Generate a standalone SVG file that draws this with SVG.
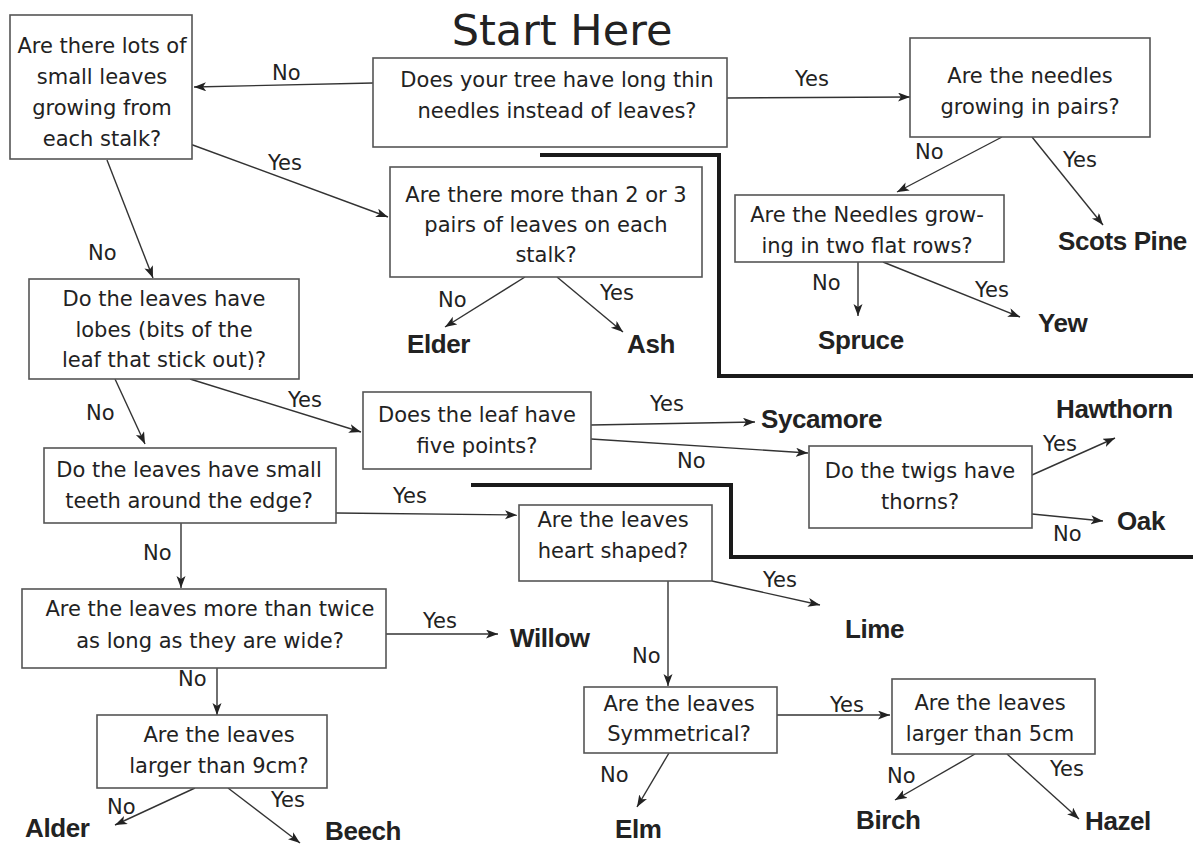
<svg xmlns="http://www.w3.org/2000/svg" width="1195" height="845" viewBox="0 0 1195 845">
<style>
.box{fill:#fff;stroke:#555;stroke-width:1.6}
.q{font-family:"DejaVu Sans",sans-serif;font-size:21px;fill:#222;text-anchor:middle}
.lbl{font-family:"DejaVu Sans",sans-serif;font-size:21px;fill:#222}
.leaf{font-family:"Liberation Sans",Arial,sans-serif;font-weight:bold;font-size:26px;fill:#222;letter-spacing:-0.4px}
.title{font-family:"DejaVu Sans",sans-serif;font-size:43px;fill:#222;text-anchor:middle}
.con{fill:none;stroke:#333;stroke-width:1.4;marker-end:url(#ah)}
.thick{fill:none;stroke:#1a1a1a;stroke-width:4}
</style>
<defs>
<marker id="ah" markerUnits="userSpaceOnUse" markerWidth="13" markerHeight="10" refX="12" refY="4.5" orient="auto">
<path d="M0,0 L12,4.5 L0,9 L3,4.5 z" fill="#222"/>
</marker>
</defs>
<rect width="1195" height="845" fill="#fff"/>
<text class="title" x="562" y="45">Start Here</text>

<g id="dividers">
<path class="thick" d="M540,155 H719 V376 H1193"/>
<path class="thick" d="M471,485 H731 V557 H1193"/>
</g>

<g id="connectors">
<path class="con" d="M373,83 L194,87"/>
<path class="con" d="M727,98 L910,97"/>
<path class="con" d="M190,144 L388,217"/>
<path class="con" d="M107,160 L153,278"/>
<path class="con" d="M1002,137 L897,192"/>
<path class="con" d="M1032,137 L1103,225"/>
<path class="con" d="M858,262 L858,316"/>
<path class="con" d="M883,262 L1020,317"/>
<path class="con" d="M525,277 L445,327"/>
<path class="con" d="M557,277 L623,332"/>
<path class="con" d="M115,379 L145,444"/>
<path class="con" d="M190,379 L361,432"/>
<path class="con" d="M591,425 L755,422"/>
<path class="con" d="M591,439 L808,453"/>
<path class="con" d="M1032,475 L1115,438"/>
<path class="con" d="M1032,514 L1103,521"/>
<path class="con" d="M336,513 L517,515"/>
<path class="con" d="M181,523 L181,588"/>
<path class="con" d="M712,581 L820,605"/>
<path class="con" d="M668,581 L668,686"/>
<path class="con" d="M386,634 L498,634"/>
<path class="con" d="M217,668 L217,715"/>
<path class="con" d="M195,788 L115,825"/>
<path class="con" d="M228,788 L300,843"/>
<path class="con" d="M669,753 L637,807"/>
<path class="con" d="M777,715 L890,715"/>
<path class="con" d="M975,754 L895,800"/>
<path class="con" d="M1007,754 L1079,819"/>
</g>

<g id="labels">
<text class="lbl" x="272" y="80">No</text>
<text class="lbl" x="795" y="86">Yes</text>
<text class="lbl" x="268" y="170">Yes</text>
<text class="lbl" x="88" y="260">No</text>
<text class="lbl" x="915" y="159">No</text>
<text class="lbl" x="1063" y="167">Yes</text>
<text class="lbl" x="812" y="290">No</text>
<text class="lbl" x="975" y="297">Yes</text>
<text class="lbl" x="438" y="307">No</text>
<text class="lbl" x="600" y="300">Yes</text>
<text class="lbl" x="86" y="420">No</text>
<text class="lbl" x="288" y="407">Yes</text>
<text class="lbl" x="650" y="411">Yes</text>
<text class="lbl" x="677" y="468">No</text>
<text class="lbl" x="1043" y="451">Yes</text>
<text class="lbl" x="1053" y="541">No</text>
<text class="lbl" x="393" y="503">Yes</text>
<text class="lbl" x="143" y="560">No</text>
<text class="lbl" x="763" y="587">Yes</text>
<text class="lbl" x="632" y="663">No</text>
<text class="lbl" x="423" y="628">Yes</text>
<text class="lbl" x="178" y="686">No</text>
<text class="lbl" x="107" y="814">No</text>
<text class="lbl" x="271" y="807">Yes</text>
<text class="lbl" x="600" y="782">No</text>
<text class="lbl" x="830" y="712">Yes</text>
<text class="lbl" x="887" y="783">No</text>
<text class="lbl" x="1050" y="776">Yes</text>
</g>

<g id="q-start">
<rect class="box" x="373" y="58" width="354" height="89"/>
<text class="q" x="557" y="87">Does your tree have long thin</text>
<text class="q" x="557" y="118">needles instead of leaves?</text>
</g>
<g id="q-small-leaves">
<rect class="box" x="10" y="15" width="182" height="144"/>
<text class="q" x="102" y="53">Are there lots of</text>
<text class="q" x="102" y="84">small leaves</text>
<text class="q" x="102" y="115">growing from</text>
<text class="q" x="102" y="146">each stalk?</text>
</g>
<g id="q-needle-pairs">
<rect class="box" x="910" y="38" width="240" height="99"/>
<text class="q" x="1030" y="83">Are the needles</text>
<text class="q" x="1030" y="114">growing in pairs?</text>
</g>
<g id="q-flat-rows">
<rect class="box" x="735" y="195" width="269" height="67"/>
<text class="q" x="867" y="222">Are the Needles grow-</text>
<text class="q" x="867" y="253">ing in two flat rows?</text>
</g>
<g id="q-pairs">
<rect class="box" x="390" y="167" width="312" height="110"/>
<text class="q" x="546" y="202">Are there more than 2 or 3</text>
<text class="q" x="546" y="232">pairs of leaves on each</text>
<text class="q" x="546" y="262">stalk?</text>
</g>
<g id="q-lobes">
<rect class="box" x="29" y="279" width="270" height="100"/>
<text class="q" x="164" y="306">Do the leaves have</text>
<text class="q" x="164" y="337">lobes (bits of the</text>
<text class="q" x="164" y="367">leaf that stick out)?</text>
</g>
<g id="q-five-points">
<rect class="box" x="363" y="392" width="228" height="77"/>
<text class="q" x="477" y="422">Does the leaf have</text>
<text class="q" x="477" y="453">five points?</text>
</g>
<g id="q-thorns">
<rect class="box" x="809" y="446" width="223" height="82"/>
<text class="q" x="920" y="478">Do the twigs have</text>
<text class="q" x="920" y="509">thorns?</text>
</g>
<g id="q-teeth">
<rect class="box" x="44" y="448" width="292" height="75"/>
<text class="q" x="189" y="477">Do the leaves have small</text>
<text class="q" x="189" y="508">teeth around the edge?</text>
</g>
<g id="q-heart">
<rect class="box" x="519" y="505" width="193" height="76"/>
<text class="q" x="613" y="527">Are the leaves</text>
<text class="q" x="613" y="558">heart shaped?</text>
</g>
<g id="q-twice">
<rect class="box" x="22" y="589" width="364" height="79"/>
<text class="q" x="210" y="616">Are the leaves more than twice</text>
<text class="q" x="210" y="648">as long as they are wide?</text>
</g>
<g id="q-9cm">
<rect class="box" x="97" y="715" width="230" height="73"/>
<text class="q" x="219" y="742">Are the leaves</text>
<text class="q" x="219" y="773">larger than 9cm?</text>
</g>
<g id="q-symmetrical">
<rect class="box" x="584" y="687" width="193" height="66"/>
<text class="q" x="679" y="711">Are the leaves</text>
<text class="q" x="679" y="741">Symmetrical?</text>
</g>
<g id="q-5cm">
<rect class="box" x="892" y="679" width="203" height="75"/>
<text class="q" x="990" y="710">Are the leaves</text>
<text class="q" x="990" y="741">larger than 5cm</text>
</g>

<g id="trees">
<text class="leaf" x="1058" y="250">Scots Pine</text>
<text class="leaf" x="818" y="349">Spruce</text>
<text class="leaf" x="1038" y="332">Yew</text>
<text class="leaf" x="407" y="353">Elder</text>
<text class="leaf" x="627" y="353">Ash</text>
<text class="leaf" x="761" y="428">Sycamore</text>
<text class="leaf" x="1056" y="418">Hawthorn</text>
<text class="leaf" x="1117" y="530">Oak</text>
<text class="leaf" x="510" y="647">Willow</text>
<text class="leaf" x="845" y="638">Lime</text>
<text class="leaf" x="25" y="837">Alder</text>
<text class="leaf" x="325" y="840">Beech</text>
<text class="leaf" x="615" y="838">Elm</text>
<text class="leaf" x="856" y="829">Birch</text>
<text class="leaf" x="1085" y="830">Hazel</text>
</g>
</svg>
